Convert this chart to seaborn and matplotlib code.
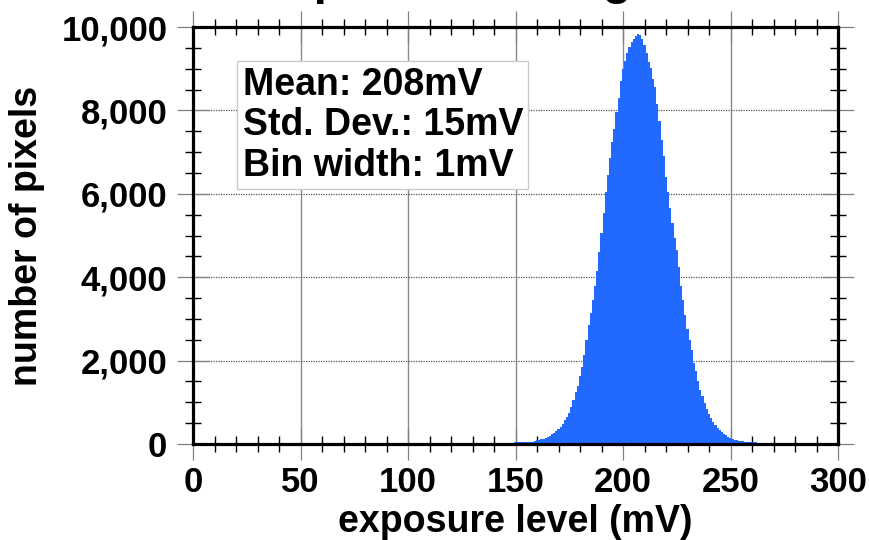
import matplotlib
matplotlib.use("Agg")
import matplotlib.pyplot as plt
import pandas as pd
import seaborn as sns
from matplotlib.ticker import MultipleLocator, FuncFormatter

# Histogram of sensor exposure levels, 1 mV bins
levels_mv = list(range(149, 264))
pixel_counts = [
    30, 38, 40, 40, 42, 42, 45, 45, 48, 55,            # 149-158
    70, 85, 100, 110, 125, 140, 165, 195, 230, 270,     # 159-168
    310, 350, 410, 480, 570, 650, 740, 880, 1060, 1250, # 169-178
    1400, 1620, 1850, 2130, 2500, 2850, 3150, 3450, 3800, 4150,  # 179-188
    4600, 5050, 5550, 6050, 6450, 6850, 7250, 7550, 7950, 8300,  # 189-198
    8700, 9000, 9180, 9380, 9530, 9640, 9720, 9780, 9830, 9800,  # 199-208
    9720, 9570, 9380, 9150, 9020, 8750, 8550, 8150, 7750, 7300,  # 209-218
    6900, 6400, 6050, 5650, 5300, 4950, 4650, 4250, 3800, 3450,  # 219-228
    3100, 2750, 2500, 2250, 1950, 1750, 1500, 1300, 1150, 980,   # 229-238
    850, 720, 620, 530, 450, 390, 340, 280, 240, 210,            # 239-248
    170, 140, 115, 100, 88, 78, 70, 62, 56, 50,                  # 249-258
    46, 42, 40, 38, 30,                                          # 259-263
]

x_ticks = [0, 50, 100, 150, 200, 250, 300]
y_ticks = [0, 2000, 4000, 6000, 8000, 10000]
stats_lines = ["Mean: 208mV", "Std. Dev.: 15mV", "Bin width: 1mV"]
title_text = "Exposure Histogram"
x_label = "exposure level (mV)"
y_label = "number of pixels"
fill_color = "#2169ff"

sns.set_theme(style="white")
plt.rcParams["font.family"] = ["Liberation Sans", "DejaVu Sans"]
plt.rcParams["font.weight"] = "bold"
plt.rcParams["text.color"] = "black"
plt.rcParams["axes.labelcolor"] = "black"

fig = plt.figure(figsize=(8.69, 5.40), dpi=100)
ax = fig.add_axes([193 / 869, 1 - 444 / 540, (838 - 193) / 869, (444 - 27) / 540])

df = pd.DataFrame({"level": levels_mv, "count": pixel_counts})
sns.histplot(data=df, x="level", weights="count", discrete=True, shrink=1.0,
             element="bars", fill=True, color=fill_color, alpha=1.0,
             linewidth=0, ax=ax, zorder=1)
# adjacent 1 mV bars rendered without antialiasing so they merge into one solid area
for bar in ax.patches:
    bar.set_facecolor(fill_color)
    bar.set_edgecolor("none")
    bar.set_antialiased(False)

# grid drawn beneath the histogram fill
for v in x_ticks:
    ax.axvline(v, color="#8a8a8a", lw=1.0, zorder=0.5)
for c in y_ticks[1:-1]:
    ax.axhline(c, color="#555555", lw=0.9, ls=(0, (1, 1)), zorder=0.5)

ax.set_xlim(0, 300)
ax.set_ylim(0, 10000)
ax.set_xticks(x_ticks)
ax.set_yticks(y_ticks)
ax.xaxis.set_minor_locator(MultipleLocator(10))
ax.yaxis.set_minor_locator(MultipleLocator(500))
ax.yaxis.set_major_formatter(FuncFormatter(lambda v, p: f"{v:,.0f}"))

ax.tick_params(which="major", direction="inout", length=23, width=0.9,
               color="#808080", top=True, right=True, bottom=True, left=True,
               labeltop=False, labelright=False, labelsize=25,
               labelcolor="black")
ax.tick_params(axis="x", which="major", pad=4)
ax.tick_params(axis="y", which="major", pad=7)
ax.tick_params(which="minor", direction="inout", length=12, width=1.0,
               color="black", top=True, right=True, bottom=True, left=True)
for lab in ax.get_xticklabels() + ax.get_yticklabels():
    lab.set_fontweight("bold")

for s in ax.spines.values():
    s.set_visible(True)
    s.set_color("black")
    s.set_linewidth(2.3)
    s.set_zorder(3)

ax.set_xlabel(x_label, fontsize=27, fontweight="bold", labelpad=4)
ax.set_ylabel(y_label, fontsize=27, fontweight="bold", labelpad=12)

ax.text(0.077, 0.905, "\n".join(stats_lines), transform=ax.transAxes,
        fontsize=27, fontweight="bold", ha="left", va="top",
        linespacing=1.17, zorder=4,
        bbox=dict(boxstyle="square,pad=0.14", facecolor="white",
                  edgecolor="#cccccc", linewidth=1.0))

fig.text(487 / 869, 1 + 6 / 540, title_text, fontsize=34, fontweight="bold",
         ha="center", va="baseline")

fig.savefig("out.png", dpi=100)
